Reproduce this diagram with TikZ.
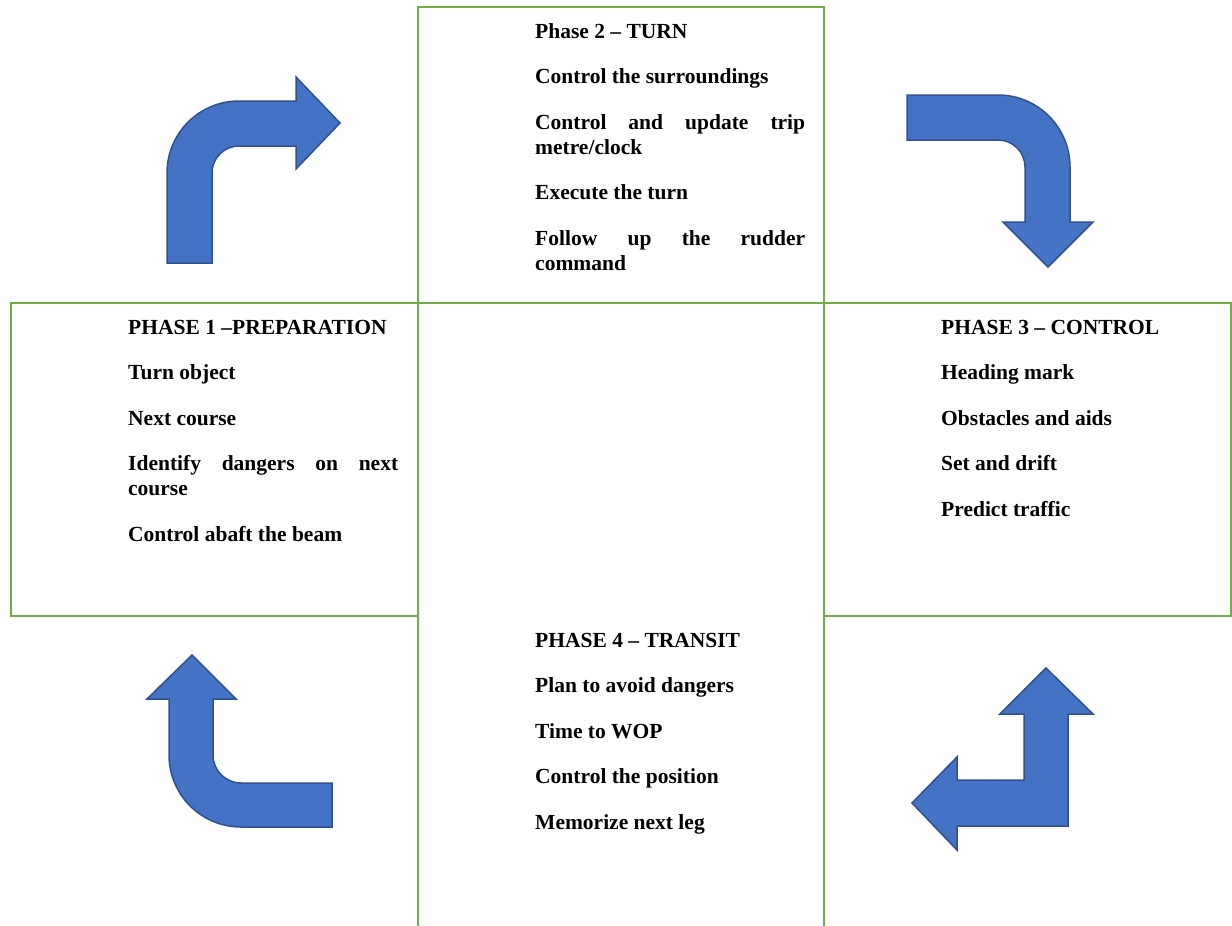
\documentclass[tikz,border=0pt]{standalone}
\usepackage{fontspec}
\setmainfont{Liberation Serif}
\definecolor{boxgreen}{HTML}{70AD47}
\definecolor{arrowfill}{HTML}{4472C4}
\definecolor{arrowline}{HTML}{2F528F}
\hyphenpenalty=10000
\tolerance=10000
\hbadness=10000
\newcommand{\itemgap}{\par\vspace{20.5pt}}

\begin{document}
\begin{tikzpicture}[x=1pt,y=-1pt,
  phasebox/.style={draw=boxgreen,line width=1.5pt,inner sep=0pt},
  phasetext/.style={anchor=base west,inner sep=0pt,text width=270pt,align=justify,
    font=\fontsize{21.5}{25}\selectfont\bfseries},
  bentarrow/.style={fill=arrowfill,draw=arrowline,line width=1.5pt,line join=miter}]
\useasboundingbox (0,0) rectangle (1232,926);

% the four phase boxes
\node[phasebox,minimum width=406pt,minimum height=296pt] (turnbox) at (621,155) {};
\node[phasebox,minimum width=407pt,minimum height=313pt] (prepbox) at (214.5,459.5) {};
\node[phasebox,minimum width=407pt,minimum height=313pt] (controlbox) at (1027.5,459.5) {};
\draw[draw=boxgreen,line width=1.5pt] (418,616) -- (418,926) (824,616) -- (824,926);

% texts
\node[phasetext] (turn) at (535,38) {Phase 2 – TURN\itemgap
  Control the surroundings\itemgap
  Control and update trip metre/clock\itemgap
  Execute the turn\itemgap
  Follow up the rudder command};
\node[phasetext] (prep) at (128,334) {PHASE 1 –PREPARATION\itemgap
  Turn object\itemgap
  Next course\itemgap
  Identify dangers on next course\itemgap
  Control abaft the beam};
\node[phasetext] (control) at (941,334) {PHASE 3 – CONTROL\itemgap
  Heading mark\itemgap
  Obstacles and aids\itemgap
  Set and drift\itemgap
  Predict traffic};
\node[phasetext] (transit) at (535,647) {PHASE 4 – TRANSIT\itemgap
  Plan to avoid dangers\itemgap
  Time to WOP\itemgap
  Control the position\itemgap
  Memorize next leg};

% bent arrows
\draw[bentarrow] (167,263) -- (167,173) arc[start angle=180,end angle=90,radius=72pt]
  -- (296,101) -- (296,77) -- (340,123) -- (296,169) -- (296,146) -- (239,146)
  arc[start angle=90,end angle=180,radius=27pt] -- (212,263) -- cycle;
\draw[bentarrow] (907,95) -- (998,95) arc[start angle=90,end angle=0,radius=72pt]
  -- (1070,222) -- (1093,222) -- (1048,267) -- (1003,222) -- (1025,222) -- (1025,167)
  arc[start angle=0,end angle=90,radius=27pt] -- (907,140) -- cycle;
\draw[bentarrow] (332,783) -- (241,783) arc[start angle=270,end angle=180,radius=28pt]
  -- (213,699) -- (236,699) -- (192,655) -- (147,699) -- (169,699) -- (169,755)
  arc[start angle=180,end angle=270,radius=72pt] -- (332,827) -- cycle;
\draw[bentarrow] (1046,668) -- (1093,714) -- (1068,714) -- (1068,826) -- (957,826)
  -- (957,850) -- (912,803) -- (957,757) -- (957,780) -- (1024,780) -- (1024,714)
  -- (1000,714) -- cycle;
\end{tikzpicture}
\end{document}
